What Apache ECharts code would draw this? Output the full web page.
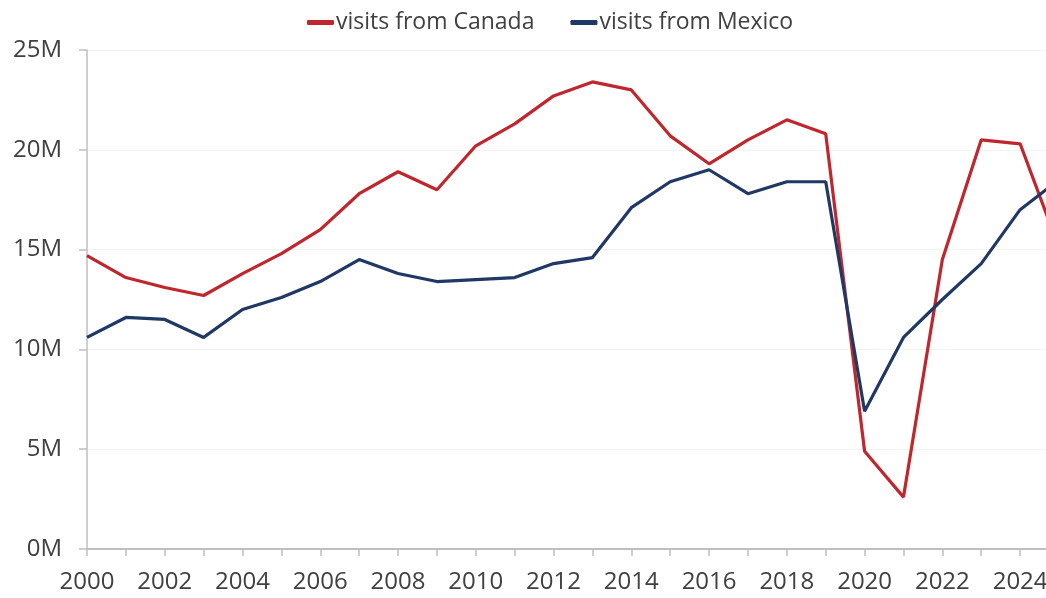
<!DOCTYPE html>
<html>
<head>
<meta charset="utf-8">
<title>Visits from Canada and Mexico</title>
<script src="https://cdn.jsdelivr.net/npm/echarts@6/dist/echarts.min.js"></script>
<style>
  html, body { margin: 0; padding: 0; background: #ffffff; }
  #chart { width: 1046px; height: 598px; }
</style>
</head>
<body>
<div id="chart"></div>
<script>
// Annual visits, in millions
const years = ['2000','2001','2002','2003','2004','2005','2006','2007','2008','2009',
               '2010','2011','2012','2013','2014','2015','2016','2017','2018','2019',
               '2020','2021','2022','2023','2024','2025'];
const canada = [14.7, 13.6, 13.1, 12.7, 13.8, 14.8, 16.0, 17.8, 18.9, 18.0,
                20.2, 21.3, 22.7, 23.4, 23.0, 20.7, 19.3, 20.5, 21.5, 20.8,
                4.9, 2.6, 14.5, 20.5, 20.3, 15.1];
const mexico = [10.6, 11.6, 11.5, 10.6, 12.0, 12.6, 13.4, 14.5, 13.8, 13.4,
                13.5, 13.6, 14.3, 14.6, 17.1, 18.4, 19.0, 17.8, 18.4, 18.4,
                6.9, 10.6, 12.5, 14.3, 17.0, 18.5];
const yTicks = [0, 5, 10, 15, 20, 25];

const font = '"Open Sans", "Noto Sans", sans-serif';
const textColor = '#404040';
const axisGray = '#bfbfbf';

const chart = echarts.init(document.getElementById('chart'), null, { renderer: 'canvas' });
chart.setOption({
  animation: false,
  backgroundColor: '#ffffff',
  textStyle: { fontFamily: font },
  legend: {
    left: 302,
    top: 6,
    itemWidth: 27,
    itemHeight: 5,
    itemGap: 36,
    icon: 'roundRect',
    textStyle: { fontFamily: font, fontSize: 23, color: textColor, padding: [0, 0, 0, -3] },
    data: ['visits from Canada', 'visits from Mexico']
  },
  grid: {
    left: 87,
    right: -13,
    top: 50,
    bottom: 49,
    containLabel: false,
    outerBoundsMode: 'none'
  },
  xAxis: {
    type: 'category',
    data: years,
    boundaryGap: false,
    axisLine: { show: true, lineStyle: { color: axisGray, width: 2 } },
    axisTick: { show: true, interval: 0, length: 7, lineStyle: { color: axisGray, width: 1.5 } },
    axisLabel: { interval: 1, margin: 21, fontFamily: font, fontSize: 24, color: textColor },
    splitLine: { show: false }
  },
  yAxis: {
    type: 'value',
    min: yTicks[0],
    max: yTicks[yTicks.length - 1],
    interval: 5,
    axisLine: { show: true, lineStyle: { color: axisGray, width: 1.5 } },
    axisTick: { show: true, length: 8, lineStyle: { color: axisGray, width: 1.5 } },
    axisLabel: {
      margin: 25,
      fontFamily: font,
      fontSize: 24,
      color: textColor,
      formatter: v => v + 'M'
    },
    splitLine: { show: true, lineStyle: { color: '#f3f3f3', width: 1 } }
  },
  series: [
    {
      name: 'visits from Canada',
      type: 'line',
      data: canada,
      showSymbol: false,
      symbol: 'none',
      color: '#c0262e',
      lineStyle: { color: '#c0262e', width: 3.2 },
      z: 2
    },
    {
      name: 'visits from Mexico',
      type: 'line',
      data: mexico,
      showSymbol: false,
      symbol: 'none',
      color: '#1f3864',
      lineStyle: { color: '#1f3864', width: 3.2 },
      z: 3
    }
  ]
});
</script>
</body>
</html>
